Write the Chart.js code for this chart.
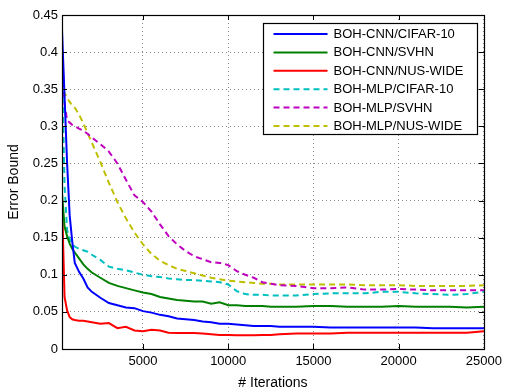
<!DOCTYPE html>
<html>
<head>
<meta charset="utf-8">
<script src="https://cdn.jsdelivr.net/npm/chart.js@4.4.1/dist/chart.umd.min.js"></script>
<style>
  html, body { margin: 0; padding: 0; background: #fff; }
</style>
</head>
<body>
<canvas id="myChart" width="507" height="392"></canvas>
<script>
var iterations = [250, 400, 550, 700, 850, 1000, 1250, 1500, 1750, 2000, 2500, 3000, 3500, 4000, 4500,
  5000, 5500, 6000, 6500, 7000, 7500, 8000, 8500, 9000, 9500, 10000, 10500, 11000, 11500, 12000,
  12500, 13000, 14000, 15000, 16000, 17000, 18000, 19000, 20000, 21000, 22000, 23000, 24000, 25000];

var cnnCifar = [0.43, 0.34, 0.25, 0.18, 0.145, 0.116, 0.104, 0.095, 0.083, 0.077, 0.069, 0.062, 0.059, 0.056, 0.055,
  0.051, 0.049, 0.046, 0.044, 0.041, 0.040, 0.039, 0.037, 0.036, 0.034, 0.034, 0.033, 0.032, 0.031, 0.031,
  0.031, 0.030, 0.030, 0.030, 0.029, 0.029, 0.029, 0.029, 0.029, 0.029, 0.028, 0.028, 0.028, 0.028];
var cnnSvhn = [0.21, 0.165, 0.152, 0.142, 0.135, 0.130, 0.122, 0.114, 0.108, 0.103, 0.096, 0.089, 0.085, 0.082, 0.079,
  0.076, 0.074, 0.070, 0.068, 0.066, 0.065, 0.064, 0.064, 0.061, 0.063, 0.059, 0.059, 0.058, 0.058, 0.058,
  0.057, 0.057, 0.057, 0.058, 0.058, 0.057, 0.057, 0.057, 0.058, 0.057, 0.057, 0.057, 0.056, 0.057];
var cnnNus = [0.2, 0.07, 0.052, 0.043, 0.040, 0.039, 0.038, 0.038, 0.037, 0.036, 0.034, 0.035, 0.028, 0.030, 0.025,
  0.024, 0.026, 0.025, 0.022, 0.0215, 0.0215, 0.0215, 0.021, 0.020, 0.019, 0.019, 0.0185, 0.0185, 0.0185, 0.019,
  0.019, 0.020, 0.021, 0.021, 0.021, 0.022, 0.022, 0.022, 0.022, 0.022, 0.022, 0.022, 0.022, 0.024];
var mlpCifar = [0.38, 0.22, 0.16, 0.148, 0.142, 0.138, 0.135, 0.133, 0.131, 0.127, 0.120, 0.111, 0.108, 0.106, 0.103,
  0.100, 0.098, 0.097, 0.095, 0.094, 0.093, 0.093, 0.092, 0.091, 0.090, 0.087, 0.078, 0.074, 0.073, 0.073,
  0.072, 0.072, 0.072, 0.074, 0.075, 0.075, 0.075, 0.077, 0.077, 0.075, 0.074, 0.073, 0.074, 0.077];
var mlpSvhn = [0.40, 0.33, 0.308, 0.305, 0.302, 0.300, 0.297, 0.294, 0.290, 0.285, 0.276, 0.266, 0.250, 0.228, 0.207,
  0.198, 0.185, 0.168, 0.152, 0.141, 0.132, 0.125, 0.121, 0.117, 0.116, 0.113, 0.105, 0.100, 0.096, 0.090,
  0.088, 0.086, 0.085, 0.082, 0.082, 0.083, 0.080, 0.080, 0.081, 0.080, 0.079, 0.079, 0.079, 0.079];
var mlpNus = [0.345, 0.345, 0.338, 0.333, 0.328, 0.325, 0.316, 0.304, 0.291, 0.278, 0.252, 0.224, 0.198, 0.176, 0.157,
  0.141, 0.128, 0.119, 0.113, 0.108, 0.105, 0.102, 0.099, 0.096, 0.094, 0.092, 0.091, 0.090, 0.089, 0.088,
  0.088, 0.087, 0.087, 0.087, 0.087, 0.087, 0.086, 0.086, 0.086, 0.085, 0.085, 0.085, 0.085, 0.086];

var seriesNames = ['BOH-CNN/CIFAR-10', 'BOH-CNN/SVHN', 'BOH-CNN/NUS-WIDE', 'BOH-MLP/CIFAR-10', 'BOH-MLP/SVHN', 'BOH-MLP/NUS-WIDE'];
var xTicks = [5000, 10000, 15000, 20000, 25000];
var yTicks = [0, 0.05, 0.1, 0.15, 0.2, 0.25, 0.3, 0.35, 0.4, 0.45];

var colors = ['#0000ff', '#008000', '#ff0000', '#00bfbf', '#bf00bf', '#bfbf00'];
var allValues = [cnnCifar, cnnSvhn, cnnNus, mlpCifar, mlpSvhn, mlpNus];

function points(vals) {
  return iterations.map(function(it, i) { return {x: it, y: vals[i]}; });
}

var datasets = allValues.map(function(vals, i) {
  return {
    label: seriesNames[i],
    data: points(vals),
    borderColor: colors[i],
    backgroundColor: colors[i],
    borderWidth: 2,
    borderDash: i >= 3 ? [6, 4] : [],
    pointRadius: 0,
    tension: 0,
    fill: false
  };
});

var fontFam = '"Liberation Sans", Arial, Helvetica, sans-serif';

// box, inward ticks on all four sides, and the legend box
var boxPlugin = {
  id: 'box',
  afterDatasetsDraw: function(chart) {
    var ctx = chart.ctx, a = chart.chartArea;
    var xs = chart.scales.x, ys = chart.scales.y;
    ctx.save();
    ctx.strokeStyle = '#000';
    ctx.lineWidth = 1;
    ctx.setLineDash([]);
    ctx.beginPath();
    xTicks.forEach(function(v) {
      var px = Math.round(xs.getPixelForValue(v)) + 0.5;
      ctx.moveTo(px, a.bottom); ctx.lineTo(px, a.bottom - 5);
      ctx.moveTo(px, a.top); ctx.lineTo(px, a.top + 5);
    });
    yTicks.forEach(function(v) {
      var py = Math.round(ys.getPixelForValue(v)) + 0.5;
      ctx.moveTo(a.left, py); ctx.lineTo(a.left + 5, py);
      ctx.moveTo(a.right, py); ctx.lineTo(a.right - 5, py);
    });
    ctx.stroke();
    ctx.lineWidth = 1.2;
    ctx.strokeRect(Math.round(a.left) + 0.5, Math.round(a.top) + 0.5,
      Math.round(a.right - a.left), Math.round(a.bottom - a.top));

    // legend
    var bw = 214, bh = 111;
    var bx = Math.round(a.right - 7 - bw) + 0.5, by = Math.round(a.top + 8) + 0.5;
    ctx.fillStyle = '#fff';
    ctx.fillRect(bx, by, bw, bh);
    ctx.lineWidth = 1.2;
    ctx.strokeStyle = '#000';
    ctx.strokeRect(bx, by, bw, bh);
    ctx.font = '13px ' + fontFam;
    ctx.textBaseline = 'middle';
    ctx.textAlign = 'left';
    chart.data.datasets.forEach(function(ds, i) {
      var ry = by + 10.5 + i * 18.4;
      ctx.beginPath();
      ctx.strokeStyle = ds.borderColor;
      ctx.lineWidth = 2;
      ctx.setLineDash(ds.borderDash);
      ctx.moveTo(bx + 10, ry);
      ctx.lineTo(bx + 64, ry);
      ctx.stroke();
      ctx.setLineDash([]);
      ctx.fillStyle = '#000';
      ctx.fillText(ds.label, bx + 70, ry + 0.5);
    });
    ctx.restore();
  }
};

var canvas = document.getElementById('myChart');
new Chart(canvas, {
  type: 'line',
  data: { datasets: datasets },
  options: {
    responsive: false,
    animation: false,
    layout: { padding: { top: 15, right: 23, left: 0, bottom: 0 } },
    plugins: {
      legend: { display: false },
      tooltip: { enabled: false }
    },
    scales: {
      x: {
        type: 'linear',
        min: 250,
        max: 25000,
        afterBuildTicks: function(scale) {
          scale.ticks = xTicks.map(function(v) { return {value: v}; });
        },
        afterFit: function(scale) { scale.height = 43; },
        grid: {
          color: '#888',
          lineWidth: 1,
          drawTicks: false
        },
        border: { display: false, dash: [1, 3] },
        ticks: {
          color: '#000',
          padding: 5,
          maxRotation: 0,
          font: { family: fontFam, size: 13 },
          callback: function(v) { return String(v); }
        },
        title: {
          display: true,
          text: '# Iterations',
          color: '#000',
          font: { family: fontFam, size: 14 },
          padding: { top: 0, bottom: 0 }
        }
      },
      y: {
        min: 0,
        max: 0.45,
        afterBuildTicks: function(scale) {
          scale.ticks = yTicks.map(function(v) { return {value: v}; });
        },
        afterFit: function(scale) { scale.width = 62; },
        grid: {
          color: '#888',
          lineWidth: 1,
          drawTicks: false
        },
        border: { display: false, dash: [1, 3] },
        ticks: {
          color: '#000',
          padding: 4,
          font: { family: fontFam, size: 13 },
          callback: function(v) { return String(v); }
        },
        title: {
          display: true,
          text: 'Error Bound',
          color: '#000',
          font: { family: fontFam, size: 14 },
          padding: { top: 6, bottom: 0 }
        }
      }
    }
  },
  plugins: [boxPlugin]
});
</script>
</body>
</html>
